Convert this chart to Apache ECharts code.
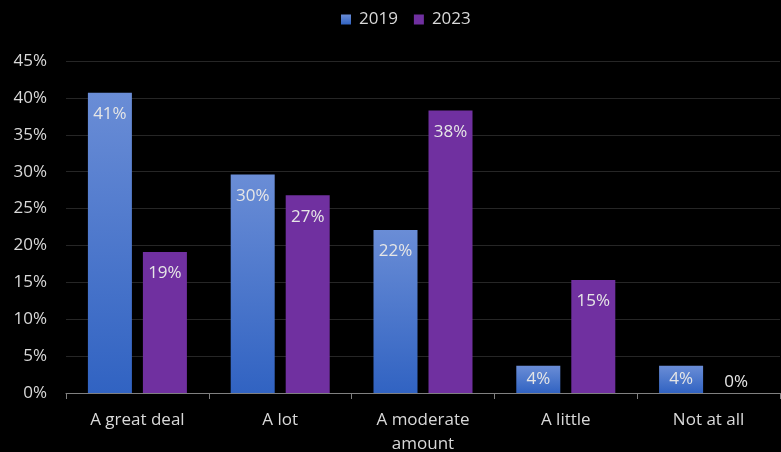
<!DOCTYPE html>
<html><head><meta charset="utf-8">
<script src="https://cdn.jsdelivr.net/npm/echarts@6/dist/echarts.min.js"></script>
<style>html,body{margin:0;padding:0;background:#000;}#c{width:781px;height:452px;}</style>
</head><body><div id="c"></div>
<script>
const categories = ['A great deal', 'A lot', 'A moderate\namount', 'A little', 'Not at all'];
const values2019 = [40.7, 29.6, 22.1, 3.7, 3.7];
const values2023 = [19.1, 26.8, 38.3, 15.3, 0];
const labels2019 = ['41%', '30%', '22%', '4%', '4%'];
const labels2023 = ['19%', '27%', '38%', '15%', '0%'];
const font = 'Open Sans, sans-serif';
const fs = 17;
function lab(v) {
  if (v === 0) return {value: v, label: {position: 'top', distance: 2}};
  if (v < 6) return {value: v, label: {position: 'inside'}};
  return v;
}
const chart = echarts.init(document.getElementById('c'));
chart.setOption({
  backgroundColor: '#000',
  animation: false,
  textStyle: {fontFamily: font},
  legend: {
    top: 6, left: 336, itemWidth: 10, itemHeight: 10, itemGap: 16, icon: 'rect',
    textStyle: {color: '#d9d9d9', fontSize: fs, fontFamily: font, padding: [0, 0, 0, 3]},
    data: ['2019', '2023']
  },
  grid: {left: 66, right: 1, top: 61, bottom: 59, outerBoundsMode: 'none', containLabel: false},
  xAxis: {
    type: 'category', data: categories,
    axisLine: {lineStyle: {color: '#808080', width: 1}},
    axisTick: {show: true, length: 6, lineStyle: {color: '#808080'}},
    axisLabel: {color: '#d9d9d9', fontSize: fs, fontFamily: font, margin: 15, lineHeight: 24}
  },
  yAxis: {
    type: 'value', min: 0, max: 45, interval: 5,
    axisLabel: {color: '#d9d9d9', fontSize: fs, fontFamily: font, formatter: '{value}%', margin: 19},
    splitLine: {lineStyle: {color: '#262626', width: 1}},
    axisLine: {show: false}, axisTick: {show: false}
  },
  series: [
    {
      name: '2019', type: 'bar', barWidth: 44, barGap: '25%',
      itemStyle: {color: new echarts.graphic.LinearGradient(0, 0, 0, 1, [
        {offset: 0, color: '#6a8dd6'}, {offset: 1, color: '#3163c2'}])},
      data: values2019.map(lab),
      label: {show: true, position: 'insideTop', distance: 13, color: '#e6e6e6', fontSize: fs, fontFamily: font,
        formatter: p => labels2019[p.dataIndex]}
    },
    {
      name: '2023', type: 'bar', barWidth: 44,
      itemStyle: {color: '#7030a0'},
      data: values2023.map(lab),
      label: {show: true, position: 'insideTop', distance: 13, color: '#e6e6e6', fontSize: fs, fontFamily: font,
        formatter: p => labels2023[p.dataIndex]}
    }
  ]
});
</script></body></html>
